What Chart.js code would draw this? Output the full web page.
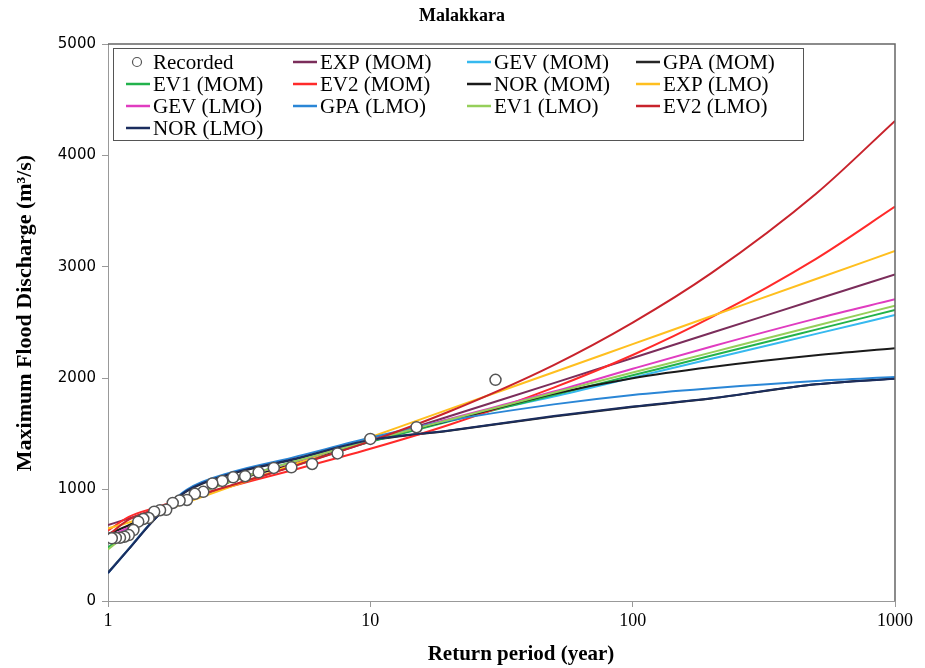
<!DOCTYPE html>
<html>
<head>
<meta charset="utf-8">
<script src="https://cdn.jsdelivr.net/npm/chart.js@4.4.0/dist/chart.umd.min.js"></script>
<style>
  html, body { margin: 0; padding: 0; background: #fff; }
</style>
</head>
<body>
<canvas id="chart" width="925" height="668"></canvas>
<script>
// Recorded floods (Weibull plotting positions)
const recordedT = [30, 15, 10, 7.5, 6, 5, 4.286, 3.75, 3.333, 3, 2.727, 2.5, 2.308, 2.143, 2,
    1.875, 1.765, 1.667, 1.579, 1.5, 1.429, 1.364, 1.304, 1.25, 1.2, 1.154, 1.111, 1.071, 1.034];
const recordedQ = [1985, 1560, 1455, 1325, 1230, 1200, 1195, 1155, 1120, 1110, 1078, 1055, 980, 962, 907,
    902, 880, 818, 815, 802, 745, 736, 712, 637, 592, 577, 568, 566, 563];

// Fitted curves, read at these return periods
const returnPeriods = [1, 1.2, 1.5, 2, 3, 5, 10, 20, 50, 100, 200, 500, 1000];
const expMom = [682, 741, 814, 908, 1040, 1206, 1432, 1658, 1956, 2182, 2408, 2706, 2932];
const gevMom = [560, 650, 790, 940, 1085, 1245, 1445, 1630, 1835, 2005, 2175, 2398, 2567];
const gpaMom = [255, 468, 732, 985, 1145, 1265, 1440, 1528, 1655, 1742, 1818, 1945, 1998];
const ev1Mom = [480, 620, 775, 930, 1080, 1240, 1430, 1613, 1849, 2026, 2203, 2436, 2612];
const ev2Mom = [632, 755, 835, 925, 1035, 1172, 1366, 1582, 1915, 2208, 2548, 3072, 3540];
const norMom = [600, 680, 800, 935, 1080, 1225, 1450, 1620, 1860, 2000, 2100, 2205, 2268];
const expLmo = [650, 705, 781, 886, 1033, 1218, 1470, 1722, 2054, 2306, 2558, 2891, 3142];
const gevLmo = [575, 660, 795, 940, 1085, 1240, 1445, 1635, 1880, 2085, 2285, 2535, 2708];
const gpaLmo = [250, 468, 735, 1000, 1160, 1285, 1465, 1620, 1765, 1850, 1910, 1975, 2010];
const ev1Lmo = [462, 608, 770, 925, 1080, 1245, 1440, 1627, 1870, 2051, 2232, 2471, 2651];
const ev2Lmo = [589, 730, 820, 918, 1044, 1203, 1435, 1701, 2118, 2499, 2945, 3656, 4310];
const norLmo = [250, 465, 730, 990, 1150, 1270, 1445, 1530, 1660, 1745, 1820, 1945, 1995];

const seriesNames = ['EXP (MOM)', 'GEV (MOM)', 'GPA (MOM)', 'EV1 (MOM)', 'EV2 (MOM)', 'NOR (MOM)',
    'EXP (LMO)', 'GEV (LMO)', 'GPA (LMO)', 'EV1 (LMO)', 'EV2 (LMO)', 'NOR (LMO)'];
const seriesValues = [expMom, gevMom, gpaMom, ev1Mom, ev2Mom, norMom,
    expLmo, gevLmo, gpaLmo, ev1Lmo, ev2Lmo, norLmo];
const seriesColors = ['#7b2d5b', '#36b9ef', '#262626', '#22b24c', '#ff2a2a', '#1a1a1a',
    '#ffbf1f', '#e03cc0', '#2a86d6', '#95cf5a', '#c8232c', '#1b2d5e'];

const xTicks = [1, 10, 100, 1000];
const yTicks = [0, 1000, 2000, 3000, 4000, 5000];

const serif = '"Liberation Serif", "Times New Roman", serif';

const datasets = [{
    label: 'Recorded',
    data: recordedT.map((t, i) => ({ x: t, y: recordedQ[i] })),
    showLine: false,
    pointRadius: 5.5,
    pointBackgroundColor: '#fff',
    pointBorderColor: '#555',
    pointBorderWidth: 1.5,
    order: 0
}];
seriesNames.forEach((name, i) => {
    datasets.push({
        label: name,
        data: returnPeriods.map((t, j) => ({ x: t, y: seriesValues[i][j] })),
        borderColor: seriesColors[i],
        backgroundColor: seriesColors[i],
        borderWidth: 2,
        pointRadius: 0,
        fill: false,
        cubicInterpolationMode: 'monotone',
        order: 12 - i
    });
});

// titles, plot frame and the boxed legend
const decorations = {
    id: 'decorations',
    afterDraw(chart) {
        const ctx = chart.ctx;
        const area = chart.chartArea;
        ctx.save();

        ctx.strokeStyle = '#666';
        ctx.lineWidth = 1.5;
        ctx.beginPath();
        ctx.moveTo(area.left, area.top);
        ctx.lineTo(area.right, area.top);
        ctx.lineTo(area.right, area.bottom);
        ctx.stroke();

        ctx.fillStyle = '#000';
        ctx.textAlign = 'center';
        ctx.textBaseline = 'middle';
        ctx.font = 'bold 18px ' + serif;
        ctx.fillText('Malakkara', 462, 16);
        ctx.font = 'bold 21px ' + serif;
        ctx.fillText('Return period (year)', 521, 655);
        ctx.save();
        ctx.translate(25, 313);
        ctx.rotate(-Math.PI / 2);
        ctx.font = 'bold 22px ' + serif;
        ctx.fillText('Maximum Flood Discharge (m³/s)', 0, 0);
        ctx.restore();

        // legend
        const box = { x: 113, y: 48, w: 690, h: 92 };
        ctx.fillStyle = '#fff';
        ctx.fillRect(box.x, box.y, box.w, box.h);
        ctx.strokeStyle = '#555';
        ctx.lineWidth = 1;
        ctx.strokeRect(box.x + 0.5, box.y + 0.5, box.w, box.h);

        const colText = [153, 320, 494, 663];
        ctx.font = '21px ' + serif;
        ctx.textAlign = 'left';
        chart.data.datasets.forEach((ds, i) => {
            const col = i % 4;
            const row = Math.floor(i / 4);
            const tx = colText[col];
            const ty = 62 + row * 22;
            if (i === 0) {
                ctx.beginPath();
                ctx.arc(tx - 16, ty, 4.5, 0, Math.PI * 2);
                ctx.fillStyle = '#fff';
                ctx.fill();
                ctx.strokeStyle = '#555';
                ctx.lineWidth = 1.2;
                ctx.stroke();
            } else {
                ctx.strokeStyle = ds.borderColor;
                ctx.lineWidth = 2.5;
                ctx.beginPath();
                ctx.moveTo(tx - 27, ty);
                ctx.lineTo(tx - 3, ty);
                ctx.stroke();
            }
            ctx.fillStyle = '#000';
            ctx.fillText(ds.label, tx, ty + 1);
        });
        ctx.restore();
    }
};

new Chart(document.getElementById('chart'), {
    type: 'line',
    data: { datasets: datasets },
    options: {
        responsive: false,
        animation: false,
        layout: { padding: { top: 44, right: 30, left: 0, bottom: 0 } },
        plugins: {
            legend: { display: false },
            title: { display: false },
            tooltip: { enabled: false }
        },
        scales: {
            x: {
                type: 'logarithmic',
                min: 1,
                max: 1000,
                afterBuildTicks: scale => {
                    scale.ticks = xTicks.map(v => ({ value: v }));
                },
                afterFit: scale => { scale.height = 67; },
                grid: { drawOnChartArea: false, drawTicks: true, tickLength: 6, color: '#999' },
                border: { color: '#999' },
                ticks: {
                    autoSkip: false,
                    maxRotation: 0,
                    padding: 3,
                    color: '#000',
                    font: { family: serif, size: 18 },
                    callback: value => String(value)
                }
            },
            y: {
                type: 'linear',
                min: 0,
                max: 5000,
                afterBuildTicks: scale => {
                    scale.ticks = yTicks.map(v => ({ value: v }));
                },
                afterFit: scale => { scale.width = 108; },
                grid: { drawOnChartArea: false, drawTicks: true, tickLength: 6, color: '#999' },
                border: { color: '#999' },
                ticks: {
                    padding: 6,
                    color: '#000',
                    font: { family: '"DejaVu Sans", sans-serif', size: 15 },
                    callback: value => String(value)
                }
            }
        }
    },
    plugins: [decorations]
});
</script>
</body>
</html>
